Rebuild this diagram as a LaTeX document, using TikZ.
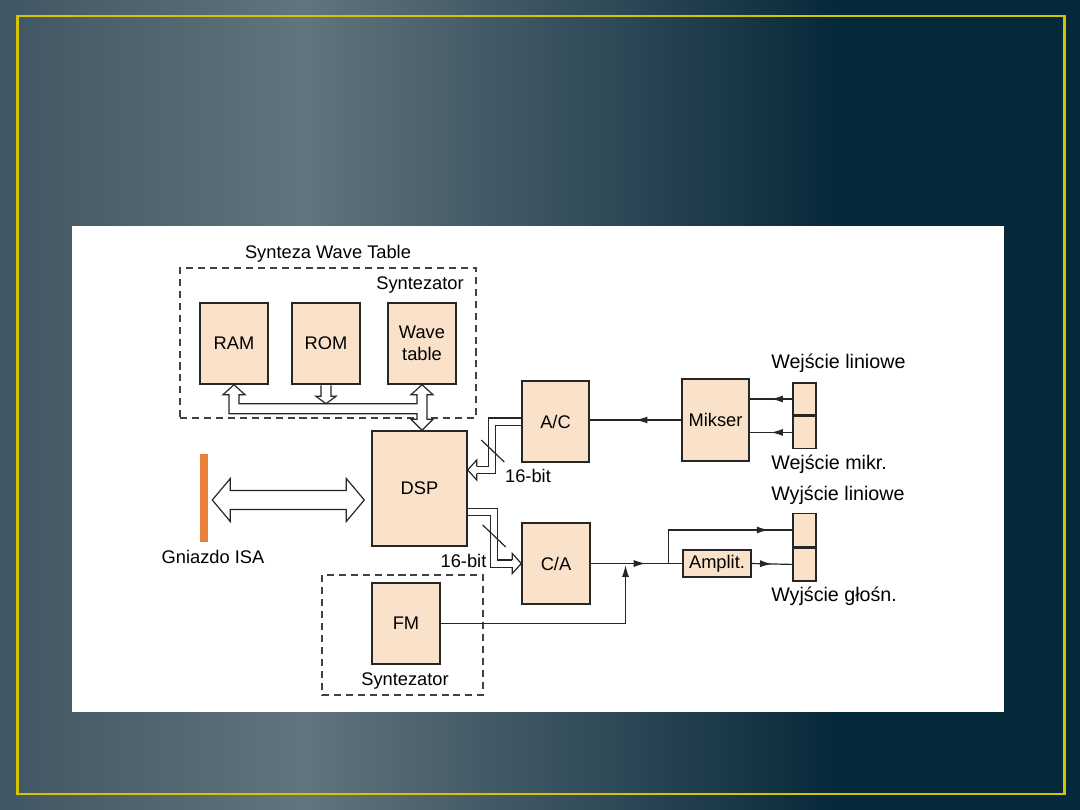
\documentclass[tikz,border=0pt]{standalone}
\usepackage{fontspec}
\setmainfont{Liberation Sans}
\usetikzlibrary{arrows.meta, calc, positioning, decorations.markings}
\definecolor{bgA}{RGB}{64,86,98}
\definecolor{bgB}{RGB}{98,116,125}
\definecolor{bgC}{RGB}{48,74,88}
\definecolor{bgD}{RGB}{14,46,62}
\definecolor{bgE}{RGB}{3,41,58}
\definecolor{frameyellow}{RGB}{214,196,0}
\definecolor{boxfill}{RGB}{249,225,202}
\definecolor{isaorange}{RGB}{232,128,58}
\pgfdeclarehorizontalshading{slidebg}{100bp}{color(0bp)=(bgA); color(25bp)=(bgA); color(39bp)=(bgB); color(53bp)=(bgC); color(62bp)=(bgD); color(64bp)=(bgE); color(100bp)=(bgE)}
\tikzset{
  blok/.style={draw=black!85, line width=1pt, fill=boxfill, minimum width=1.7cm, minimum height=2.025cm, align=center, inner sep=0pt, font=\fontsize{13}{16}\selectfont},
  gniazdo/.style={draw=black!85, line width=1pt, fill=boxfill, minimum width=0.575cm, minimum height=0.8cm, inner sep=0pt},
  ramka/.style={draw=black!75, line width=0.9pt, dash pattern=on 5pt off 3.5pt, inner sep=0pt},
  opis/.style={inner sep=0pt, font=\fontsize{13}{15}\selectfont},
  opisP/.style={inner sep=0pt, anchor=west, font=\fontsize{14}{16}\selectfont},
  linia/.style={draw=black!85, line width=0.85pt},
  strz/.style={linia, postaction={decorate}, decoration={markings, mark=at position #1 with {\arrow{Latex[length=8.5pt,width=5pt]}}}},
  strz/.default=0.5,
  szyna/.style={draw=black!85, line width=0.85pt, fill=white, line join=miter},
  pasmo/.style={draw=black!85, line width=0.75pt, double=white, double distance=0.15cm},
}
\begin{document}
\begin{tikzpicture}[x=0.025cm, y=-0.025cm]
\useasboundingbox (0,0) rectangle (1080,810);
\shade[shading=slidebg] (0,0) rectangle (1080,810);
\draw[frameyellow, line width=2.1pt] (17.5,16) rectangle (1064.5,794);
\fill[white] (72,226) rectangle (1004,712);

\node[ramka, minimum width=7.4cm, minimum height=3.75cm] (wtbox) at (328,343) {};
\node[opis] (twt) at (328,254) {Synteza Wave Table};
\node[opis] (syn1) at (420,285) {Syntezator};
\node[ramka, minimum width=4.025cm, minimum height=3cm] (fmbox) at (402.5,635) {};
\node[opis] (syn2) at (405,681) {Syntezator};

\node[blok] (ram) at (234,343.5) {RAM};
\node[blok] (rom) at (326,343.5) {ROM};
\node[blok] (wave) at (422,343.5) {Wave\\table};
\node[blok, minimum width=2.375cm, minimum height=2.875cm] (dsp) at (419.5,488.5) {DSP};
\node[blok, minimum width=1.675cm] (ac) at (555.5,421.5) {A/C};
\node[blok] (ca) at (556,563.5) {C/A};
\node[blok, minimum width=1.675cm, minimum height=2.05cm] (mikser) at (715.5,420) {Mikser};
\node[blok] (fm) at (406,623.5) {FM};
\node[blok, minimum height=0.675cm] (amp) at (717,563.5) {Amplit.};
\node[fill=isaorange, minimum width=0.2cm, minimum height=2.175cm, inner sep=0pt] (isa) at (204,498) {};
\node[opis] (isatxt) at (213,557) {Gniazdo ISA};

\node[gniazdo] (in1) at (804.5,399) {};
\node[gniazdo, below=0pt of in1] (in2) {};
\node[gniazdo, minimum height=0.825cm] (out1) at (804.5,530) {};
\node[gniazdo, minimum height=0.825cm, below=0pt of out1] (out2) {};
\node[opisP] (t1) at (771,363) {Wejście liniowe};
\node[opisP] (t2) at (771,464) {Wejście mikr.};
\node[opisP] (t3) at (771,495) {Wyjście liniowe};
\node[opisP] (t4) at (771,596) {Wyjście głośn.};

\coordinate (ramS) at (ram.south);
\coordinate (wavS) at (wave.south);
\coordinate (dspN) at (wave.south |- dsp.north);
\draw[szyna] (ramS) -- ($(ramS)+(11,10)$) -- ($(ramS)+(5,10)$) -- ($(ramS)+(5,19)$)
  -- ($(wavS)+(-5,19)$) -- ($(wavS)+(-5,10)$) -- ($(wavS)+(-11,10)$) -- (wavS)
  -- ($(wavS)+(11,10)$) -- ($(wavS)+(5,10)$) -- ($(dspN)+(5,-11)$) -- ($(dspN)+(11,-11)$)
  -- (dspN) -- ($(dspN)+(-11,-11)$) -- ($(dspN)+(-5,-11)$) -- ($(wavS)+(-5,29)$)
  -- ($(ramS)+(-5,29)$) -- ($(ramS)+(-5,10)$) -- ($(ramS)+(-11,10)$) -- cycle;
\coordinate (romS) at ($(rom.south)+(0,0.6)$);
\draw[szyna] ($(romS)+(-5,0)$) -- ($(romS)+(-5,11)$) -- ($(romS)+(-10,11)$) -- ($(romS)+(0,18.4)$)
  -- ($(romS)+(10,11)$) -- ($(romS)+(5,11)$) -- ($(romS)+(5,0)$);

\coordinate (isaL) at ($(isa.east)+(4,2)$);
\coordinate (isaR) at ($(dsp.west)+(-7,11.5)$);
\draw[szyna] (isaL) -- ($(isaL)+(18,-21.5)$) -- ($(isaL)+(18,-9.5)$) -- ($(isaR)+(-18,-9.5)$)
  -- ($(isaR)+(-18,-21.5)$) -- (isaR) -- ($(isaR)+(-18,21.5)$) -- ($(isaR)+(-18,9.5)$)
  -- ($(isaL)+(18,9.5)$) -- ($(isaL)+(18,21.5)$) -- cycle;

\coordinate (hd1) at ($(dsp.east)+(0,-18.5)$);
\draw[pasmo] (ac.west) -- ++(-29,0) |- ($(hd1)+(9,0)$);
\draw[szyna] ($(hd1)+(9,3.6)$) -- ($(hd1)+(9,10)$) -- (hd1) -- ($(hd1)+(9,-10)$) -- ($(hd1)+(9,-3.6)$);
\draw[linia] ($(ac.west)+(-40,18.5)$) -- ++(23,22);
\node[opis] (bit1) at (528,476) {16-bit};

\coordinate (hd2) at (ca.west);
\draw[pasmo] ($(dsp.east)+(0,23.5)$) -- ++(26.5,0) |- ($(hd2)+(-9,0)$);
\draw[szyna] ($(hd2)+(-9,3.6)$) -- ($(hd2)+(-9,10)$) -- (hd2) -- ($(hd2)+(-9,-10)$) -- ($(hd2)+(-9,-3.6)$);
\draw[linia] ($(dsp.east)+(15,36.5)$) -- ++(23,22);
\node[opis] (bit2) at (463.5,561) {16-bit};

\draw[strz] (mikser.west) -- (mikser.west -| ac.east);
\draw[strz] (in1.west) -- (in1.west -| mikser.east);
\draw[strz] (in2.west) -- (in2.west -| mikser.east);
\coordinate (junc) at ($(ca.east)!0.38!(amp.west)$);
\coordinate (br) at ($(ca.east)!0.85!(amp.west)$);
\draw[strz=0.6] (ca.east) -- (amp.west);
\draw[strz=0.85] (br) |- (out1.west);
\draw[strz] (amp.east) -- (out2.west);
\draw[linia, -{Latex[length=8.5pt,width=5pt]}] (fm.east) -| ($(junc)+(0,1.5)$);
\end{tikzpicture}
\end{document}
